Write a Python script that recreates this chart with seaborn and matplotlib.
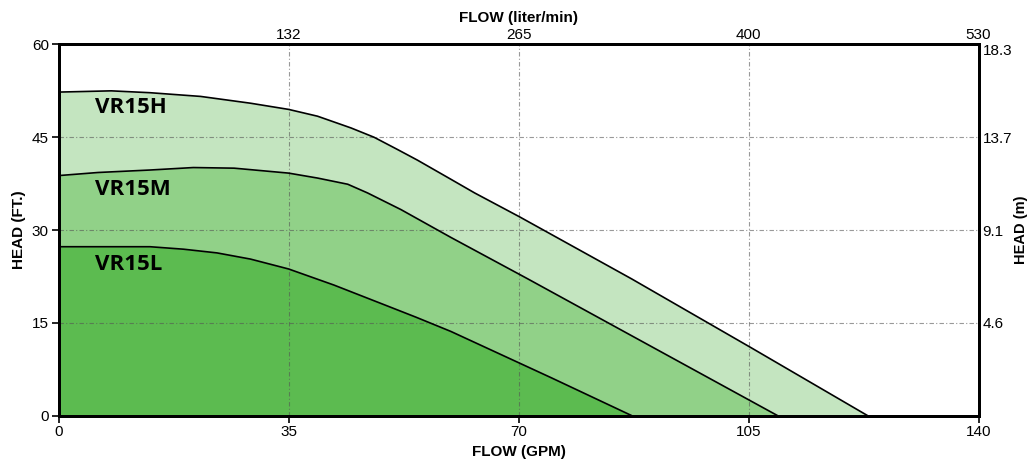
import numpy as np
import pandas as pd
import matplotlib
matplotlib.use("Agg")
import matplotlib.pyplot as plt
import seaborn as sns

# pump curves (flow GPM, head ft)
h_flow = [0, 8, 13.9, 21.6, 29.2, 35, 39.4, 44.5, 48, 51.6, 54.6, 59.7, 63.3, 70.2, 87.2, 105.5, 123.1]
h_head = [52.3, 52.5, 52.2, 51.6, 50.5, 49.5, 48.4, 46.5, 45.0, 43.0, 41.3, 38.2, 36.0, 32.1, 22.1, 10.9, 0]

m_flow = [0, 6, 13.9, 20.5, 26.7, 35, 39.4, 44.0, 47.0, 52.1, 59.7, 71.4, 109.4]
m_head = [38.8, 39.3, 39.7, 40.1, 40.0, 39.2, 38.4, 37.4, 36.0, 33.3, 28.8, 22.1, 0]

l_flow = [0, 13.9, 19.0, 24.1, 29.2, 35, 41.9, 49.6, 54.4, 59.7, 75, 87.2]
l_head = [27.3, 27.3, 26.9, 26.3, 25.3, 23.7, 21.1, 17.9, 15.9, 13.6, 6.1, 0]

gpm_ticks = [0, 35, 70, 105, 140]
lpm_ticks = [35, 70, 105, 140]
lpm_labels = ["132", "265", "400", "530"]
ft_ticks = [0, 15, 30, 45, 60]
m_ticks = [15, 30, 45, 60]
m_labels = ["4.6", "9.1", "13.7", "18.3"]

curves = [
    ("VR15H", h_flow, h_head, "#c4e5c0", 49.8),
    ("VR15M", m_flow, m_head, "#91d188", 36.6),
    ("VR15L", l_flow, l_head, "#5cbb50", 24.4),
]

sns.set_style("ticks")
plt.rcParams['font.family'] = ['Liberation Sans', 'DejaVu Sans']
plt.rcParams.update({"text.color": "black", "axes.labelcolor": "black",
                     "xtick.color": "black", "ytick.color": "black",
                     "axes.edgecolor": "black"})

fig = plt.figure(figsize=(10.29, 4.68), dpi=100)
ax = fig.add_axes([0.057, 0.112, 0.894, 0.793])

for name, fx, fy, col, ly in curves:
    df = pd.DataFrame({"flow": fx, "head": fy})
    ax.fill_between(df["flow"], df["head"], 0, color=col, lw=0, zorder=1)
    sns.lineplot(data=df, x="flow", y="head", ax=ax, color="black", lw=1.2,
                 zorder=3, sort=False)
    ax.text(5.5, ly, name, fontsize=16, fontweight="bold", va="center",
            family=["Open Sans", "DejaVu Sans"], zorder=4)

ax.set_xlim(0, 140)
ax.set_ylim(0, 60)
ax.set_xticks(gpm_ticks)
ax.set_yticks(ft_ticks)
ax.tick_params(labelsize=11, length=5, width=1.2, pad=2)
ax.set_xlabel("FLOW (GPM)", fontsize=11, fontweight="bold", labelpad=4)
ax.set_ylabel("HEAD (FT.)", fontsize=11, fontweight="bold", labelpad=4)

for v in [35, 70, 105]:
    ax.axvline(v, color="#555555", lw=0.8, ls=(0, (4, 2, 1, 2)), alpha=0.6, zorder=2)
for v in [15, 30, 45]:
    ax.axhline(v, color="#555555", lw=0.8, ls=(0, (4, 2, 1, 2)), alpha=0.6, zorder=2)

for s in ax.spines.values():
    s.set_visible(True)
    s.set_linewidth(2)
    s.set_zorder(5)

top = ax.twiny()
top.set_xlim(ax.get_xlim())
top.set_xticks(lpm_ticks)
top.set_xticklabels(lpm_labels)
top.tick_params(labelsize=11, length=0, pad=2)
top.set_xlabel("FLOW (liter/min)", fontsize=11, fontweight="bold", labelpad=4)

right = ax.twinx()
right.set_ylim(ax.get_ylim())
right.set_yticks(m_ticks)
right.set_yticklabels(m_labels)
right.tick_params(labelsize=11, length=0, pad=3)
right.set_ylabel("HEAD (m)", fontsize=10.5, fontweight="bold", labelpad=1)
right.get_yticklabels()[-1].set_va("top")

for a in (top, right):
    for s in a.spines.values():
        s.set_linewidth(2)

fig.savefig("out.png", dpi=100)
